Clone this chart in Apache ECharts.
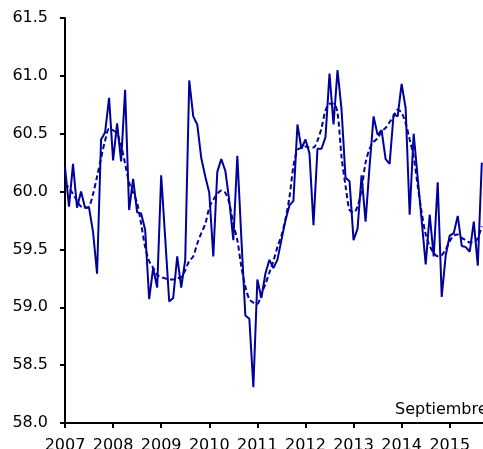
<!DOCTYPE html>
<html><head><meta charset="utf-8">
<script src="https://cdn.jsdelivr.net/npm/echarts@6/dist/echarts.min.js"></script>
<style>html,body{margin:0;padding:0;background:#fff}#c{width:483px;height:449px}</style>
</head><body><div id="c"></div>
<script>
// Monthly series, January 2007 to September 2015
const startYear = 2007;
const yearLabels = [2007, 2008, 2009, 2010, 2011, 2012, 2013, 2014, 2015];
const actual = [
  60.21, 59.87, 60.24, 59.86, 60.00, 59.86, 59.86, 59.65, 59.29, 60.45, 60.51, 60.81,
  60.27, 60.59, 60.26, 60.88, 59.84, 60.11, 59.82, 59.81, 59.67, 59.07, 59.34, 59.17,
  60.14, 59.60, 59.05, 59.08, 59.44, 59.17, 59.41, 60.96, 60.65, 60.58, 60.29, 60.13,
  59.99, 59.44, 60.17, 60.28, 60.18, 59.92, 59.58, 60.31, 59.60, 58.93, 58.90, 58.31,
  59.24, 59.08, 59.29, 59.41, 59.34, 59.41, 59.58, 59.75, 59.88, 59.92, 60.58, 60.37,
  60.45, 60.33, 59.71, 60.37, 60.37, 60.47, 61.02, 60.58, 61.05, 60.71, 60.12, 60.09,
  59.58, 59.68, 60.14, 59.74, 60.22, 60.65, 60.49, 60.53, 60.28, 60.24, 60.67, 60.65,
  60.93, 60.72, 59.80, 60.50, 60.12, 59.75, 59.37, 59.80, 59.44, 60.08, 59.09, 59.45,
  59.62, 59.64, 59.79, 59.53, 59.52, 59.48, 59.74, 59.36, 60.25
];
const trend = [
  60.07, 60.03, 59.98, 59.92, 59.87, 59.86, 59.87, 59.98, 60.13, 60.29, 60.44, 60.54,
  60.53, 60.50, 60.40, 60.24, 60.08, 59.99, 59.90, 59.72, 59.52, 59.40, 59.34, 59.28,
  59.26, 59.25, 59.24, 59.24, 59.25, 59.26, 59.32, 59.40, 59.44, 59.55, 59.64, 59.72,
  59.86, 59.93, 59.98, 60.01, 59.99, 59.90, 59.72, 59.58, 59.35, 59.18, 59.07, 59.04,
  59.03, 59.12, 59.20, 59.30, 59.40, 59.52, 59.62, 59.76, 59.95, 60.22, 60.36, 60.38,
  60.39, 60.38, 60.38, 60.44, 60.55, 60.70, 60.76, 60.76, 60.68, 60.30, 60.05, 59.84,
  59.82, 59.87, 60.02, 60.25, 60.37, 60.43, 60.46, 60.52, 60.55, 60.60, 60.65, 60.71,
  60.68, 60.59, 60.45, 60.30, 60.05, 59.82, 59.63, 59.53, 59.47, 59.44, 59.45, 59.50,
  59.57, 59.62, 59.63, 59.60, 59.58, 59.56, 59.56, 59.60, 59.70
];
const noteText = 'Septiembre 2015';

const toPairs = arr => arr.map((v, i) => [i, v]);
const font = 'DejaVu Sans';
const blue = '#00009C';

const chart = echarts.init(document.getElementById('c'));
chart.setOption({
  animation: false,
  backgroundColor: '#fff',
  grid: { left: 65, top: 18, bottom: 26, right: 0, containLabel: false, outerBoundsMode: 'none' },
  xAxis: {
    type: 'value', min: 0, max: 104.3, interval: 12,
    axisLine: { show: true, onZero: false, lineStyle: { color: '#000', width: 2 } },
    axisTick: { show: true, length: 5, lineStyle: { color: '#000', width: 2 } },
    splitLine: { show: false },
    axisLabel: {
      showMaxLabel: false, margin: 15, color: '#000', fontSize: 16, fontFamily: font,
      formatter: v => (v % 12 === 0 ? String(yearLabels[v / 12]) : '')
    }
  },
  yAxis: {
    type: 'value', min: 58, max: 61.5, interval: 0.5,
    axisLine: { show: true, lineStyle: { color: '#000', width: 2 } },
    axisTick: { show: true, length: 5, lineStyle: { color: '#000', width: 2 } },
    splitLine: { show: false },
    axisLabel: { margin: 17, color: '#000', fontSize: 16, fontFamily: font, formatter: v => v.toFixed(1) }
  },
  graphic: [{
    type: 'text', left: 395, top: 402,
    style: { text: noteText, fill: '#000', font: '16px "DejaVu Sans"' }
  }],
  series: [
    { type: 'line', data: toPairs(actual), symbol: 'none', lineStyle: { color: blue, width: 2 }, z: 3 },
    { type: 'line', data: toPairs(trend), symbol: 'none', smooth: 0.3, lineStyle: { color: blue, width: 2, type: [5, 3] }, z: 2 }
  ]
});
</script></body></html>
